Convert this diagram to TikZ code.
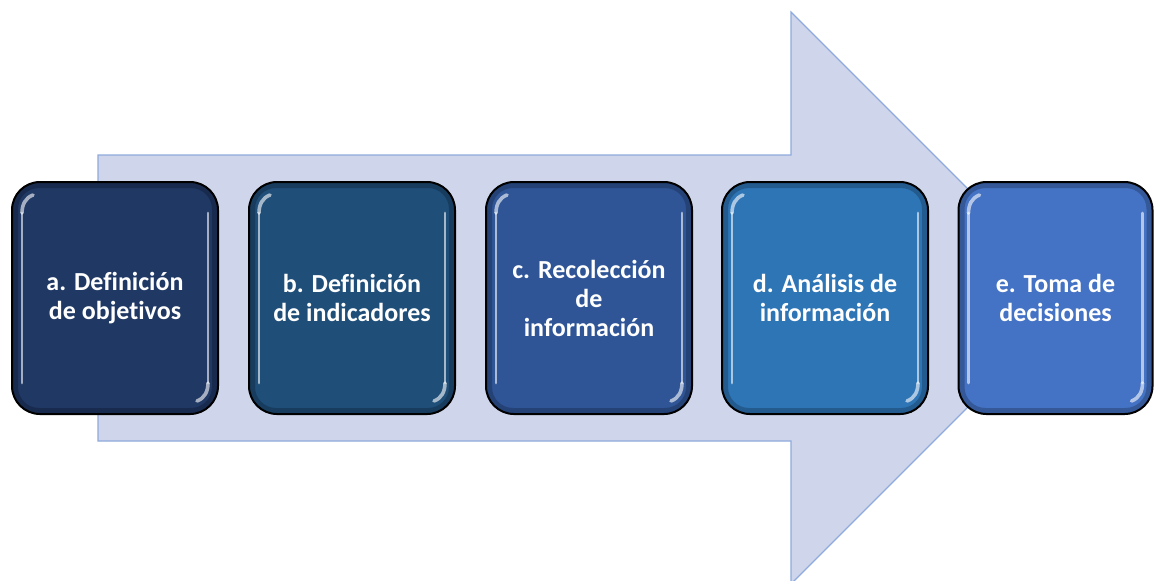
\documentclass[tikz,border=0pt]{standalone}
\usepackage{fontspec}
\setmainfont[Ligatures=CommonOff]{Carlito}
\definecolor{arrowfill}{HTML}{CFD5EA}
\definecolor{arrowline}{HTML}{8FAADC}
\definecolor{ca}{HTML}{203864}
\definecolor{cb}{HTML}{1F4E79}
\definecolor{cc}{HTML}{2F5597}
\definecolor{cd}{HTML}{2E75B6}
\definecolor{ce}{HTML}{4472C4}
\tikzset{
  stepbox/.style={draw=black, line width=1pt, rounded corners=14pt,
    minimum width=103pt, minimum height=116pt, text=white, align=center,
    font=\fontsize{13pt}{14.5pt}\selectfont\bfseries, inner sep=0pt},
  innerband/.style={draw=black, draw opacity=0.22, line width=3pt, rounded corners=12pt},
  gloss/.style={draw=white, draw opacity=0.6, line width=1.4pt, line cap=round},
  bigarrow/.style={fill=arrowfill, draw=arrowline, line width=0.6pt}
}
\begin{document}
\begin{tikzpicture}[x=0.5pt,y=-0.5pt]
\useasboundingbox (0,0) rectangle (1154,580);
\begin{scope}
\clip (0,0) rectangle (1154,580);
% big arrow
\coordinate (s1) at (98,155);
\coordinate (h1) at (791,155);
\coordinate (h2) at (791,12);
\coordinate (tip) at (1077,298);
\coordinate (h3) at (791,584);
\coordinate (h4) at (791,441);
\coordinate (s2) at (98,441);
\draw[bigarrow] (s1) -- (h1) -- (h2) -- (tip) -- (h3) -- (h4) -- (s2) -- cycle;
% boxes
\node[stepbox, fill=ca] (a) at (115,298) {a. Definición\\de objetivos};
\node[stepbox, fill=cb] (b) at (352,298) {b. Definición\\de indicadores};
\node[stepbox, fill=cc] (c) at (589,298) {c. Recolección\\de\\información};
\node[stepbox, fill=cd] (d) at (825,298) {d. Análisis de\\información};
\node[stepbox, fill=ce, minimum width=97pt] (e) at (1055.5,298) {e. Toma de\\decisiones};
\foreach \n in {a,b,c,d,e}{
  \draw[innerband] ([shift={(2pt,-2pt)}]\n.north west) rectangle ([shift={(-2pt,2pt)}]\n.south east);
  \draw[gloss] ([shift={(5.5pt,-16pt)}]\n.north west) -- ([shift={(5.5pt,16pt)}]\n.south west);
  \draw[gloss] ([shift={(-5.5pt,-16pt)}]\n.north east) -- ([shift={(-5.5pt,16pt)}]\n.south east);
  \draw[gloss, line width=1.8pt] ([shift={(5.5pt,-16pt)}]\n.north west) to[out=90,in=200] ([shift={(11pt,-7pt)}]\n.north west);
  \draw[gloss, line width=1.8pt] ([shift={(-5.5pt,16pt)}]\n.south east) to[out=-90,in=20] ([shift={(-11pt,7pt)}]\n.south east);
}
\end{scope}
\end{tikzpicture}
\end{document}
